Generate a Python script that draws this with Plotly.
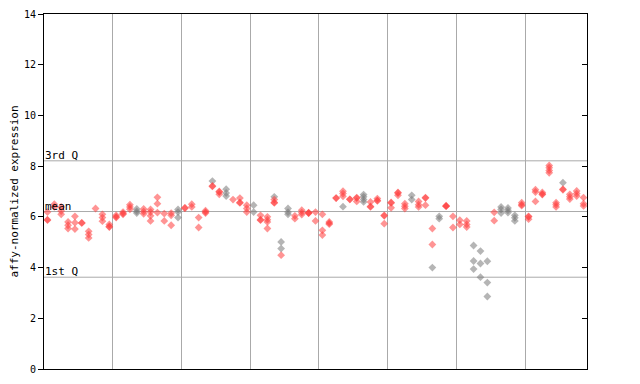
import plotly.graph_objects as go

# Per-sample (column) expression values
red_points = [
    [6.19, 5.87, 5.89], [6.50, 6.39], [6.39, 6.23, 6.10], [5.80, 5.67, 5.54],
    [6.02, 5.77, 5.52], [5.76, 5.76], [5.43, 5.30, 5.17], [6.33],
    [6.10, 5.97, 5.83], [5.70, 5.60, 5.62], [6.06, 5.97, 6.00], [6.19, 6.10, 6.13],
    [6.48, 6.39, 6.30], [], [6.31, 6.21, 6.12], [6.29, 6.19, 6.04, 5.84],
    [6.77, 6.52, 6.17], [6.13, 5.84], [6.15, 6.06, 5.67], [],
    [6.35, 6.35], [6.50, 6.39], [5.97, 5.58], [6.19, 6.24, 6.15],
    [7.22, 7.20], [6.98, 6.89, 7.00], [], [6.68],
    [6.74, 6.55, 6.57], [6.46, 6.33, 6.19], [], [6.06, 5.87, 5.89],
    [6.00, 5.89, 5.80, 5.54], [6.68, 6.55, 6.57], [4.49], [],
    [6.04, 5.93], [6.26, 6.17, 6.09], [6.15, 6.15, 6.17], [6.19, 5.84],
    [6.10, 5.47, 5.28], [5.80, 5.71, 5.75], [6.74, 6.74], [7.01, 6.92, 6.81],
    [6.69, 6.69], [6.74, 6.76, 6.61], [], [6.59, 6.39, 6.41],
    [6.72, 6.63, 6.65], [6.04, 6.06, 5.73], [6.55, 6.57, 6.36], [6.94, 6.96, 6.85],
    [6.52, 6.42, 6.33], [], [6.61, 6.48, 6.39], [6.74, 6.76, 6.46],
    [5.54, 4.91], [], [6.42, 6.42, 6.44], [6.02, 5.58],
    [5.87, 5.70], [5.84, 5.70, 5.60], [], [],
    [], [6.18, 5.85], [], [],
    [], [6.56, 6.48, 6.44], [6.02, 6.00, 5.91], [7.07, 6.98, 6.61],
    [6.96, 6.88, 6.90], [8.03, 7.94, 7.83, 7.74], [6.56, 6.48, 6.39], [7.07, 7.09],
    [6.89, 6.79, 6.70], [7.02, 6.92, 6.82], [6.76, 6.52, 6.43],
]
gray_points = {
    13: [6.31, 6.22, 6.15], 19: [6.29, 6.19, 5.97], 24: [7.41],
    26: [7.09, 6.94, 6.82], 30: [6.46, 6.19], 33: [6.79],
    34: [5.01, 4.75], 35: [6.33, 6.19, 6.10], 43: [6.40],
    46: [6.88, 6.79, 6.68, 6.59], 53: [6.85, 6.68], 56: [4.00],
    57: [6.02, 5.93], 62: [4.87, 4.26, 3.94], 63: [4.65, 4.16, 3.62],
    64: [4.25, 3.41, 2.86], 66: [6.39, 6.29, 6.15], 67: [6.35, 6.26, 6.17],
    68: [6.06, 5.96, 5.84], 75: [7.35],
}
quartile_labels = ["3rd Q", "mean", "1st Q"]
quartile_values = [8.21, 6.21, 3.62]
y_ticks = [0, 2, 4, 6, 8, 10, 12, 14]
n_samples = len(red_points)

rx, ry = [], []
for i, vals in enumerate(red_points):
    for v in vals:
        rx.append(i)
        ry.append(v)
gx, gy = [], []
for i, vals in gray_points.items():
    for v in vals:
        gx.append(i)
        gy.append(v)

mono = "DejaVu Sans Mono"
fig = go.Figure()
fig.add_trace(go.Scatter(x=gx, y=gy, mode="markers", hoverinfo="skip",
                         marker=dict(symbol="diamond", size=6, color="rgba(120,120,120,0.55)",
                                     line=dict(width=0))))
fig.add_trace(go.Scatter(x=rx, y=ry, mode="markers", hoverinfo="skip",
                         marker=dict(symbol="diamond", size=6, color="rgba(255,60,60,0.55)",
                                     line=dict(width=0))))
fig.add_trace(go.Scatter(x=[0], y=[0], yaxis="y2", mode="markers",
                         marker=dict(opacity=0), hoverinfo="skip"))

for lab, val in zip(quartile_labels, quartile_values):
    fig.add_shape(type="line", xref="paper", x0=0, x1=1, y0=val, y1=val,
                  line=dict(color="#aaaaaa", width=1), layer="below")
    fig.add_annotation(xref="paper", x=0, y=val, text=lab, showarrow=False,
                       xanchor="left", yanchor="bottom", yshift=-3, xshift=-1,
                       font=dict(family=mono, size=11, color="black"))

# page body has an 8px margin, so the figure is sized and offset to compensate
fig.update_layout(
    width=632, height=376, showlegend=False,
    paper_bgcolor="white", plot_bgcolor="white",
    margin=dict(l=36, r=53, t=6, b=15, autoexpand=False),
    xaxis=dict(range=[-0.5, n_samples - 0.5], showticklabels=False, ticks="",
               tickvals=[9.5 + 10 * k for k in range(7)], showgrid=True,
               gridcolor="#aaaaaa", gridwidth=1, zeroline=False, automargin=False,
               showline=True, linecolor="black", linewidth=1, mirror=True),
    yaxis=dict(range=[0, 14], tickvals=y_ticks, ticks="outside", ticklen=5,
               tickcolor="black", showgrid=False, zeroline=False, automargin=False,
               showline=True, linecolor="black", linewidth=1, mirror=True,
               tickfont=dict(family=mono, size=10, color="black"),
               title=dict(text="affy-normalized expression", standoff=6,
                          font=dict(family=mono, size=11, color="black"))),
    yaxis2=dict(range=[0, 14], overlaying="y", side="right", tickvals=y_ticks,
                ticks="inside", ticklen=5, tickcolor="black", showticklabels=False,
                showgrid=False, zeroline=False, showline=False, automargin=False),
)
fig.write_html("out.html")
